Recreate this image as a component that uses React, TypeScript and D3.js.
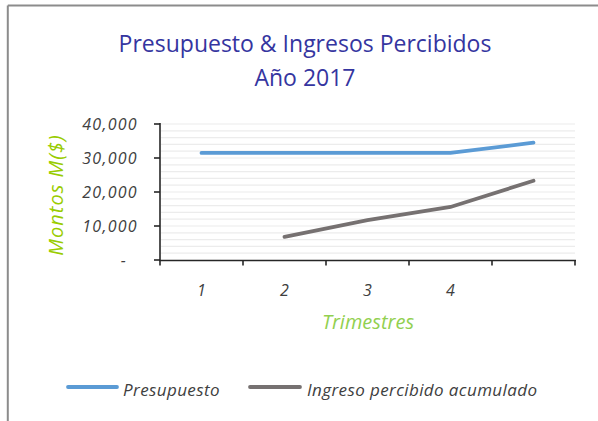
import React from "react";
import * as d3 from "d3";

const categories = ["1", "2", "3", "4", "5"];
const categoryLabels = ["1", "2", "3", "4", ""];
const presupuesto: (number | null)[] = [31500, 31500, 31500, 31500, 34500];
const ingreso: (number | null)[] = [null, 6800, 11700, 15600, 23300];
const yTicks = [0, 10000, 20000, 30000, 40000];
const seriesNames = ["Presupuesto", "Ingreso percibido acumulado"];
const seriesColors = ["#5b9bd5", "#767171"];

const W = 598;
const H = 421;

export default function App() {
  const x = d3.scaleBand<string>().domain(categories).range([160, 575]);
  const y = d3.scaleLinear().domain([0, 40000]).range([260, 124]);
  const cx = (c: string) => (x(c) as number) + x.bandwidth() / 2;
  const line = d3
    .line<number | null>()
    .defined((d) => d !== null)
    .x((_, i) => cx(categories[i]))
    .y((d) => y(d as number));
  const minor = d3.range(2000, 40001, 2000);
  const fmt = (v: number) => (v === 0 ? "-" : d3.format(",")(v));
  const font = "'Open Sans', 'DejaVu Sans', sans-serif";
  return (
    <svg width={W} height={H} style={{ position: "absolute", left: 0, top: 0, background: "#fff" }} fontFamily={font}>
      <rect x={0} y={0} width={W} height={H} fill="#fff" />
      {/* frame */}
      <line x1={7.8} y1={5.4} x2={W} y2={5.4} stroke="#8c8c8c" strokeWidth={2} />
      <line x1={7.8} y1={5.4} x2={7.8} y2={H} stroke="#8c8c8c" strokeWidth={2} />
      {/* title */}
      <text x={305} y={52} textAnchor="middle" fontSize={23} fill="#3535a0">
        Presupuesto &amp; Ingresos Percibidos
      </text>
      <text x={305} y={86} textAnchor="middle" fontSize={23} fill="#3535a0">
        Año 2017
      </text>
      {/* grid */}
      {minor.map((v) => (
        <line key={v} x1={161} x2={575} y1={y(v)} y2={y(v)} stroke="#ececec" strokeWidth={1.2} />
      ))}
      {/* axes */}
      <line x1={160} y1={123} x2={160} y2={261} stroke="#262626" strokeWidth={1.6} />
      {yTicks.map((v) => (
        <g key={v}>
          <line x1={154} x2={160} y1={y(v)} y2={y(v)} stroke="#262626" strokeWidth={1.6} />
          <text
            x={v === 0 ? 127 : 138}
            y={y(v) + 6}
            textAnchor="end"
            fontSize={16}
            letterSpacing={1.3}
            fontStyle="italic"
            fill="#404040"
          >
            {fmt(v)}
          </text>
        </g>
      ))}
      <line x1={159} y1={260.5} x2={576} y2={260.5} stroke="#262626" strokeWidth={1.6} />
      {[...categories.map((c) => x(c) as number), 575].map((t, i) => (
        <line key={i} x1={t} x2={t} y1={260.5} y2={265.5} stroke="#262626" strokeWidth={1.6} />
      ))}
      {categories.map((c, i) => (
        <text key={c} x={cx(c)} y={296} textAnchor="middle" fontSize={16} fontStyle="italic" fill="#404040">
          {categoryLabels[i]}
        </text>
      ))}
      {/* axis titles */}
      <text x={368} y={329} textAnchor="middle" fontSize={20} fontStyle="italic" fill="#92d050">
        Trimestres
      </text>
      <text
        transform="translate(63,195) rotate(-90)"
        textAnchor="middle"
        fontSize={20}
        letterSpacing={1}
        fontStyle="italic"
        fill="#99cc00"
      >
        Montos  M($)
      </text>
      {/* lines */}
      <path d={line(presupuesto) || ""} fill="none" stroke={seriesColors[0]} strokeWidth={3.8} strokeLinecap="round" />
      <path d={line(ingreso) || ""} fill="none" stroke={seriesColors[1]} strokeWidth={3.8} strokeLinecap="round" />
      {/* legend */}
      <line x1={68} x2={117} y1={387} y2={387} stroke={seriesColors[0]} strokeWidth={3.8} strokeLinecap="round" />
      <text x={123} y={396} fontSize={17} letterSpacing={0.4} fontStyle="italic" fill="#404040">
        {seriesNames[0]}
      </text>
      <line x1={250} x2={300} y1={387} y2={387} stroke={seriesColors[1]} strokeWidth={3.8} strokeLinecap="round" />
      <text x={307} y={396} fontSize={17} letterSpacing={0.4} fontStyle="italic" fill="#404040">
        {seriesNames[1]}
      </text>
    </svg>
  );
}
